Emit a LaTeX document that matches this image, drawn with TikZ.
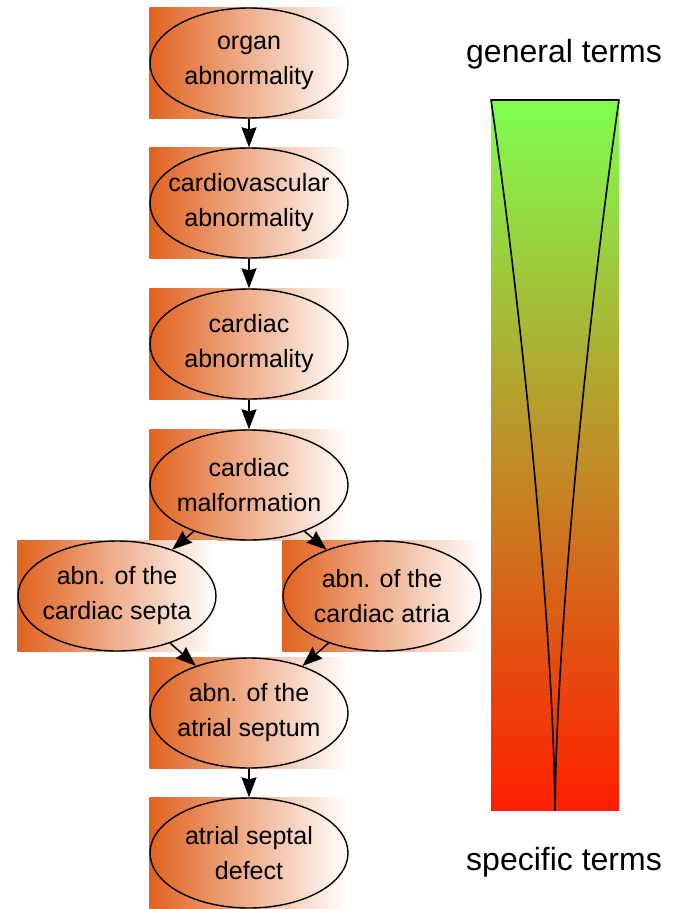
\documentclass[tikz,border=0pt]{standalone}
\usepackage{fontspec}
\setmainfont{Liberation Sans}
\usetikzlibrary{arrows.meta,shapes.geometric,backgrounds}
\definecolor{termOrange}{HTML}{E0621F}
\definecolor{barGreen}{HTML}{7FFF4F}
\definecolor{barRed}{HTML}{FF1E00}
\definecolor{termInk}{HTML}{000000}

\begin{document}
\begin{tikzpicture}[x=1pt,y=-1pt,line join=round]
\useasboundingbox (0,0) rectangle (673,909);
\tikzset{term/.style={ellipse,draw=termInk,line width=1.4pt,minimum width=198pt,minimum height=110pt,inner xsep=-12pt,inner ysep=0pt,align=center,font=\fontsize{25}{35}\selectfont},link/.style={-{Stealth[length=20pt,width=15pt,inset=2pt]},draw=termInk,line width=1.5pt},termbox/.style={left color=termOrange,right color=white},caption/.style={anchor=base,font=\fontsize{32}{38}\selectfont}}
\node[term] (organ) at (249,63) {organ\\abnormality};
\node[term] (cardiovasc) at (249,203) {cardiovascular\\abnormality};
\node[term] (cardiac) at (249,344) {cardiac\\abnormality};
\node[term] (malform) at (249,485) {cardiac\\malformation};
\node[term] (septa) at (117,596) {abn. of the\\cardiac septa};
\node[term] (atria) at (382,596) {abn. of the\\cardiac atria};
\node[term] (septum) at (249,713) {abn. of the\\atrial septum};
\node[term] (asd) at (249,853) {atrial septal\\defect};
\begin{scope}[on background layer]
\fill[white] (0,0) rectangle (673,909);
\foreach \n in {organ,cardiovasc,cardiac,malform,septa,atria,septum,asd} \shade[termbox] (\n.west |- \n.north) rectangle (\n.east |- \n.south);
\end{scope}
\draw[link] (organ) -- (cardiovasc); \draw[link] (cardiovasc) -- (cardiac); \draw[link] (cardiac) -- (malform);
\draw[link] (malform) -- (septa); \draw[link] (malform) -- (atria);
\draw[link] (septa) -- (septum); \draw[link] (atria) -- (septum); \draw[link] (septum) -- (asd);
\shade[top color=barGreen,bottom color=barRed] (491,100) rectangle (619,810);
\draw[line width=1.6pt] (491,100) -- (619,100) .. controls (590,300) and (557,620) .. (555,810) .. controls (553,620) and (520,300) .. (491,100) -- cycle;
\node[caption] (general) at (564,63) {general terms};
\node[caption] (specific) at (564,870) {specific terms};
\end{tikzpicture}
\end{document}
